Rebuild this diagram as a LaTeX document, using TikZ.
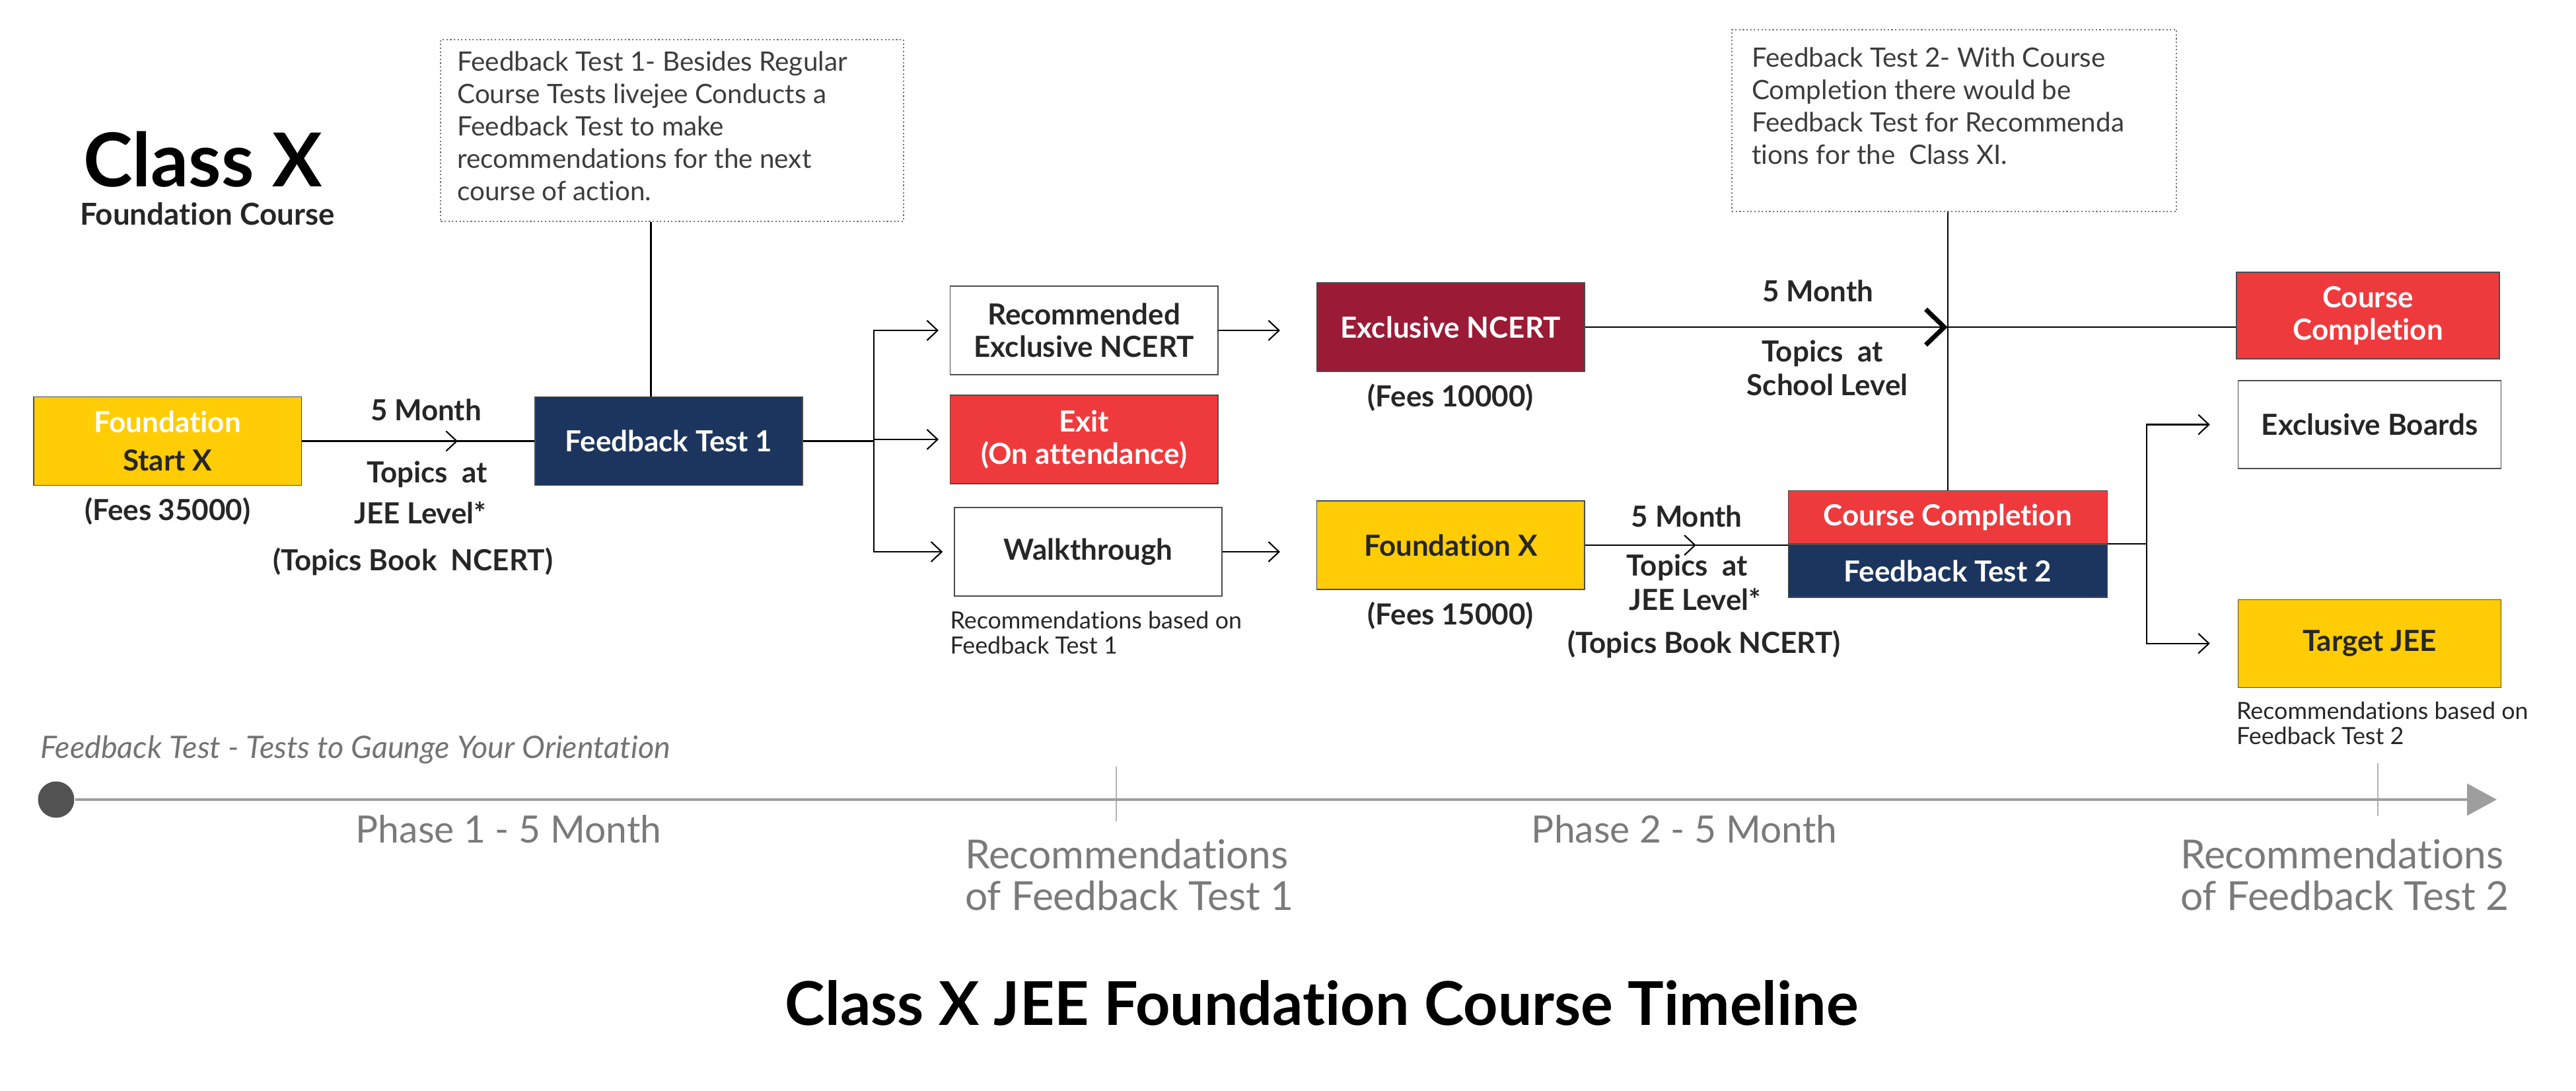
\documentclass[tikz,border=0pt]{standalone}
\usepackage{fontspec}
\setmainfont{Lato}[Ligatures=NoCommon]
\usepackage{tikz}
\usetikzlibrary{positioning,arrows.meta,decorations.markings}

\definecolor{fyellow}{HTML}{FFCC05}
\definecolor{fnavy}{HTML}{1C355E}
\definecolor{fred}{HTML}{EF3A3D}
\definecolor{fmaroon}{HTML}{9B1B37}
\definecolor{ink}{HTML}{262626}

\begin{document}
\begin{tikzpicture}[x=0.025cm,y=-0.025cm,>={Straight Barb[length=1.6mm,width=3mm]},
                    semithick,
                    midarrow/.style={postaction={decorate},decoration={markings,
                      mark=at position #1 with {\arrow{>}}}},
                    boldarrow/.style={postaction={decorate},decoration={markings,
                      mark=at position #1 with {\arrow{Straight Barb[length=2.8mm,width=5.4mm,line width=2pt]}}}}]
  \tikzstyle{box}=[draw=black!70,thin,minimum width=4.05cm,minimum height=1.34cm,align=center,
                   inner sep=1pt,font=\fontsize{12.5}{14}\selectfont\bfseries,text=ink]
  \tikzstyle{lbl}=[inner sep=0pt,font=\fontsize{12.5}{15}\selectfont\bfseries,text=ink]
  \tikzstyle{note}=[draw=black!55,densely dotted,minimum height=2.75cm]
  \tikzstyle{notetext}=[align=left,inner sep=0pt,font=\fontsize{11.5}{13.9}\selectfont,text=ink!90]
  \tikzstyle{small}=[align=left,inner sep=0pt,font=\fontsize{10.2}{10.9}\selectfont,text=ink]
  \tikzstyle{phase}=[align=left,inner sep=0pt,font=\fontsize{16.2}{17.8}\selectfont,text=black!52]

  \useasboundingbox (0,0) rectangle (1560,660);

  % heading
  \node[inner sep=0pt,font=\fontsize{32}{34}\selectfont\bfseries] (classx) at (122.7,96.5) {Class X};
  \node[lbl,font=\fontsize{13}{15}\selectfont\bfseries] (fcourse) at (125.5,129.5) {Foundation Course};

  % notes
  \node[note,minimum width=7cm]    (note1) at (407,79) {};
  \node[notetext,anchor=north west] (note1txt) at ([xshift=0.25cm,yshift=-0.18cm]note1.north west)
    {Feedback Test 1- Besides Regular\\Course Tests livejee Conducts a\\Feedback Test to make\\
     recommendations for the next\\course of action.};
  \node[note,minimum width=6.73cm] (note2) at (1183.5,73) {};
  \node[notetext,anchor=north west] (note2txt) at ([xshift=0.3cm,yshift=-0.27cm]note2.north west)
    {Feedback Test 2- With Course\\Completion there would be\\Feedback Test for Recommenda\\
     tions for the\ \ Class XI.};

  % boxes
  \node[box,fill=fyellow,text=white] (fsx)  at (101.5,267) {Foundation\\[2.4pt]\textcolor{ink}{Start X}};
  \node[box,fill=fnavy,text=white]   (ft1)  at (405,267)   {Feedback Test 1};
  \node[box]                         (rec)  at (656.5,200) {Recommended\\Exclusive NCERT};
  \node[box,fill=fred,text=white]    (exit) at (656.5,266) {Exit\\(On attendance)};
  \node[box]                         (walk) at (659,334)   {Walkthrough};
  \node[box,fill=fmaroon,text=white] (exn)  at (878.5,198) {Exclusive NCERT};
  \node[box,fill=fyellow]            (fx)   at (878.5,330) {Foundation X};
  \node[box,fill=fred,text=white,minimum width=4.83cm,minimum height=0.8cm] (cc2) at (1179.5,313) {Course Completion};
  \node[box,fill=fnavy,text=white,minimum width=4.83cm,minimum height=0.8cm,below=0pt of cc2] (ft2) {Feedback Test 2};
  \node[box,fill=fred,text=white,minimum width=3.98cm,minimum height=1.31cm] (cc1) at (1434,191) {Course\\Completion};
  \node[box,minimum width=3.98cm,minimum height=1.33cm]              (eb)  at (1435,257)   {Exclusive Boards};
  \node[box,fill=fyellow,minimum width=3.98cm,minimum height=1.33cm] (tj)  at (1435,389.5) {Target JEE};

  % labels
  \node[lbl,below=0.17cm of fsx] (fee1) {(Fees 35000)};
  \node[lbl,below=0.17cm of exn] (fee2) {(Fees 10000)};
  \node[lbl,below=0.17cm of fx]  (fee3) {(Fees 15000)};
  \node[lbl] (m1) at (258,248)     {5 Month};
  \node[lbl] (t1) at (258.6,287)   {Topics\ \ at};
  \node[lbl] (j1) at (254.5,310.5) {JEE Level*};
  \node[lbl] (b1) at (250,340)     {(Topics Book\ \ NCERT)};
  \node[lbl] (m2) at (1101,176)    {5 Month};
  \node[lbl] (t2) at (1103.6,214)  {Topics\ \ at};
  \node[lbl] (s2) at (1106.6,233)  {School Level};
  \node[lbl] (m3) at (1021.5,312.5) {5 Month};
  \node[lbl] (t3) at (1021.6,343.4) {Topics\ \ at};
  \node[lbl] (j3) at (1026.5,362.7) {JEE Level*};
  \node[lbl] (b3) at (1032,390)     {(Topics Book NCERT)};
  \node[small,anchor=west] (rec1note) at (575,383)    {Recommendations based on\\Feedback Test 1};
  \node[small,anchor=west] (rec2note) at (1354,437.7) {Recommendations based on\\Feedback Test 2};

  % connectors
  \draw[midarrow=0.67] (fsx) -- (ft1);
  \draw ([xshift=-0.27cm]ft1.north) -- ([xshift=-0.27cm]ft1.north |- note1.south);
  \draw (ft1.east) -- ++(43,0) coordinate (br1);
  \draw[->,shorten >=0.17cm] (br1) |- (rec);
  \draw[->,shorten >=0.17cm] (br1) |- (exit);
  \draw[->,shorten >=0.17cm] (br1) |- (walk);
  \draw[->,shorten >=0.55cm] (rec.east) -- (rec.east -| exn.west);
  \draw[->,shorten >=0.55cm] (walk.east) -- (walk.east -| fx.west);
  \draw[boldarrow=0.557] (exn.east) -- (exn.east -| cc1.west);
  \draw[midarrow=0.548] (fx.east) -- (fx.east -| cc2.west);
  \draw (cc2.north) -- (cc2.north |- note2.south);
  \draw (ft2.north east) -- ++(23.5,0) coordinate (br2);
  \draw[->,shorten >=0.42cm] (br2) |- (eb);
  \draw[->,shorten >=0.42cm] (br2) |- (tj);

  % timeline
  \node[phase,font=\fontsize{13.3}{15}\selectfont\itshape,text=black!55,anchor=west] (legend) at (24,454)
    {Feedback Test - Tests to Gaunge Your Orientation};
  \node[circle,fill=black!68,minimum size=0.55cm,inner sep=0pt] (tl0) at (34,484) {};
  \coordinate (tl1) at (1512,484);
  \draw[black!30,thin] (676,464) -- (676,497);
  \draw[black!30,thin] (1440,462) -- (1440,494);
  \draw[black!38,line width=1pt,-{Triangle[length=0.45cm,width=0.48cm]}] (tl0) -- (tl1);
  \node[phase] (ph1) at (308,502)  {Phase 1 - 5 Month};
  \node[phase] (ph2) at (1020,502) {Phase 2 - 5 Month};
  \node[phase,font=\fontsize{17.2}{17.8}\selectfont,anchor=west] (rft1) at (584,529.5)  {Recommendations\\of Feedback Test 1};
  \node[phase,font=\fontsize{17.2}{17.8}\selectfont,anchor=west] (rft2) at (1320,529.5) {Recommendations\\of Feedback Test 2};

  % title
  \node[inner sep=0pt,font=\fontsize{26}{30}\selectfont\bfseries] (title) at (800.5,607)
    {Class X JEE Foundation Course Timeline};
\end{tikzpicture}
\end{document}
